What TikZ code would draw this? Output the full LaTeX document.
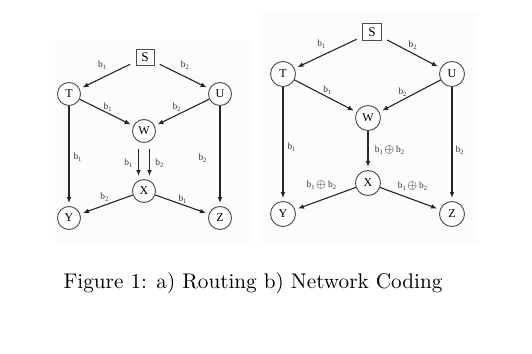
\documentclass[tikz,border=0pt]{standalone}
\usepackage{fontspec}
\newfontfamily\figfont{Liberation Serif}
\usetikzlibrary{arrows.meta}

\begin{document}
\begin{tikzpicture}[x=0.5pt, y=-0.5pt, >={Latex[length=3pt,width=2.4pt]},
    vertex/.style={circle, draw=black!70, line width=0.45pt, inner sep=0pt, fill=white,
      font=\figfont\fontsize{6}{6}\selectfont},
    srcbox/.style={rectangle, draw=black!70, line width=0.45pt, inner sep=0pt, fill=white,
      font=\figfont\fontsize{6.6}{7}\selectfont},
    link/.style={->, line width=0.55pt, black!85, shorten >=1.5pt},
    lbl/.style={midway, inner sep=0pt, black!80, font=\figfont\fontsize{4.7}{5}\selectfont}]

  \useasboundingbox (0,0) rectangle (532,354);

  % Nền hai hình
  \fill[black!1] (55,40) rectangle (252,243);
  \fill[black!1] (262,12) rectangle (478,243);

  % a) Routing
  \node[srcbox, minimum width=9pt, minimum height=8pt] (Sa) at (145,57) {S};
  \node[vertex, minimum size=11.5pt] (Ta) at (69,94) {T};
  \node[vertex, minimum size=11.5pt] (Ua) at (220,94) {U};
  \node[vertex, minimum size=11.5pt] (Wa) at (144,131) {W};
  \node[vertex, minimum size=11.5pt] (Xa) at (144,191) {X};
  \node[vertex, minimum size=11.5pt] (Ya) at (69,218) {Y};
  \node[vertex, minimum size=11.5pt] (Za) at (220,218) {Z};

  \draw[link, shorten <=3pt] (Sa) -- node[lbl, xshift=-2.5pt, yshift=5.2pt]{b\textsubscript{1}} (Ta);
  \draw[link, shorten <=3pt] (Sa) -- node[lbl, xshift=1.8pt, yshift=4.8pt]{b\textsubscript{2}} (Ua);
  \draw[link] (Ta) -- node[lbl, xshift=0.8pt, yshift=2.8pt]{b\textsubscript{1}} (Wa);
  \draw[link] (Ua) -- node[lbl, xshift=-2.5pt, yshift=2.8pt]{b\textsubscript{2}} (Wa);
  \draw[link] (Ta) -- node[lbl, xshift=4.5pt, yshift=-0.5pt]{b\textsubscript{1}} (Ya);
  \draw[link] (Ua) -- node[lbl, xshift=-8.5pt, yshift=-1pt]{b\textsubscript{2}} (Za);
  \draw[link, line width=0.7pt, shorten <=3pt] ([xshift=-2.75pt]Wa.south) -- node[lbl, xshift=-4.8pt, yshift=-1pt]{b\textsubscript{1}} ([xshift=-2.75pt]Xa.north);
  \draw[link, line width=0.7pt, shorten <=3pt] ([xshift=2.75pt]Wa.south) -- node[lbl, xshift=5.2pt, yshift=-1pt]{b\textsubscript{2}} ([xshift=2.75pt]Xa.north);
  \draw[link] (Xa) -- node[lbl, xshift=-0.8pt, yshift=3.8pt]{b\textsubscript{2}} (Ya);
  \draw[link] (Xa) -- node[lbl, xshift=0.5pt, yshift=2.8pt]{b\textsubscript{1}} (Za);

  % b) Network Coding
  \node[srcbox, minimum width=9.5pt, minimum height=8.5pt] (Sb) at (372,32) {S};
  \node[vertex, minimum size=12.5pt] (Tb) at (283,74) {T};
  \node[vertex, minimum size=12.5pt] (Ub) at (452,74) {U};
  \node[vertex, minimum size=12.5pt] (Wb) at (368,118) {W};
  \node[vertex, minimum size=12.5pt] (Xb) at (368,183) {X};
  \node[vertex, minimum size=12.5pt] (Yb) at (283,214) {Y};
  \node[vertex, minimum size=12.5pt] (Zb) at (452,214) {Z};

  \draw[link, shorten <=3pt] (Sb) -- node[lbl, xshift=-3.2pt, yshift=4pt]{b\textsubscript{1}} (Tb);
  \draw[link, shorten <=3pt] (Sb) -- node[lbl, xshift=1pt, yshift=3.5pt]{b\textsubscript{2}} (Ub);
  \draw[link] (Tb) -- node[lbl, xshift=1.2pt, yshift=3pt]{b\textsubscript{1}} (Wb);
  \draw[link] (Ub) -- node[lbl, xshift=-3.5pt, yshift=2pt]{b\textsubscript{2}} (Wb);
  \draw[link] (Tb) -- node[lbl, xshift=4.5pt, yshift=-1.5pt]{b\textsubscript{1}} (Yb);
  \draw[link] (Ub) -- node[lbl, xshift=4pt, yshift=-3pt]{b\textsubscript{2}} (Zb);
  \draw[link, line width=0.7pt] (Wb) -- node[lbl, xshift=11pt, yshift=0pt]{b\textsubscript{1}$\oplus$\,b\textsubscript{2}} (Xb);
  \draw[link] (Xb) -- node[lbl, xshift=-1.8pt, yshift=6.8pt]{b\textsubscript{1}$\oplus$\,b\textsubscript{2}} (Yb);
  \draw[link] (Xb) -- node[lbl, xshift=1.5pt, yshift=6.2pt]{b\textsubscript{1}$\oplus$\,b\textsubscript{2}} (Zb);

  % Chú thích
  \node[font=\fontsize{10.6}{12}\selectfont] (cap) at (253,283) {Figure 1: a) Routing b) Network Coding};
\end{tikzpicture}
\end{document}
